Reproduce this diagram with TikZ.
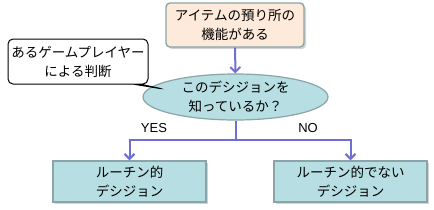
\documentclass[tikz,border=0pt]{standalone}
\usepackage{fontspec}
\setmainfont{Noto Sans CJK JP}
\newfontfamily\latinfont{Liberation Sans}
\usetikzlibrary{arrows.meta,shapes.geometric,shapes.callouts,shadows}
\definecolor{peach}{HTML}{FDEADA}
\definecolor{aqua}{HTML}{B7DEE2}
\definecolor{rim}{HTML}{8AA4A8}
\definecolor{flow}{HTML}{6E6ED6}
\tikzset{
  ombra/.style   = {drop shadow={shadow xshift=2pt, shadow yshift=-2pt, opacity=0.35, fill=gray}},
  scatola/.style = {rectangle, draw=rim, line width=1.4pt, fill=aqua, minimum width=153pt, minimum height=41pt, inner sep=1pt, align=center, font=\fontsize{13.5}{19}\selectfont, ombra},
  inizio/.style  = {scatola, rounded corners=4pt, fill=peach, minimum width=138pt, minimum height=44pt},
  scelta/.style  = {ellipse, draw=rim, line width=1.2pt, fill=aqua, minimum width=185pt, minimum height=46pt, inner sep=0pt, align=center, font=\fontsize{13.5}{19}\selectfont},
  nota/.style    = {rectangle callout, draw, line width=1pt, fill=white, rounded corners=5pt, minimum width=140pt, minimum height=45pt, inner sep=1pt, align=center, font=\fontsize{13.5}{19}\selectfont},
  link/.style    = {draw=flow, line width=2pt},
  freccia/.style = {link, -{Straight Barb[length=5pt,width=10pt]}},
  et/.style      = {font=\latinfont\fontsize{13}{15}\selectfont}
}
\begin{document}
\begin{tikzpicture}[x=1pt, y=-1pt]
  \useasboundingbox (0,0) rectangle (434,209);

  % nodi
  \node[inizio]  (item) at (235,25)    {アイテムの預り所の\\機能がある};
  \node[scelta]  (dec)  at (235.5,97)  {このデシジョンを\\知っているか？};
  \node[nota, callout absolute pointer={(163,89)}] (judge) at (78,61.5) {あるゲームプレイヤー\\による判断};
  \node[scatola] (rout) at (129.5,181.5) {ルーチン的\\デシジョン};
  \node[scatola] (nrout) at (350.5,181.5) {ルーチン的でない\\デシジョン};
  \coordinate (split) at (235.5,140);

  % collegamenti
  \draw[freccia] (item) -- (dec);
  \draw[link] (dec) -- (split);
  \draw[freccia] (split) -| (rout);
  \draw[freccia] (split) -| (nrout);

  \node[et] (yes) at (154,128) {YES};
  \node[et] (no)  at (308,128) {NO};

\end{tikzpicture}
\end{document}
